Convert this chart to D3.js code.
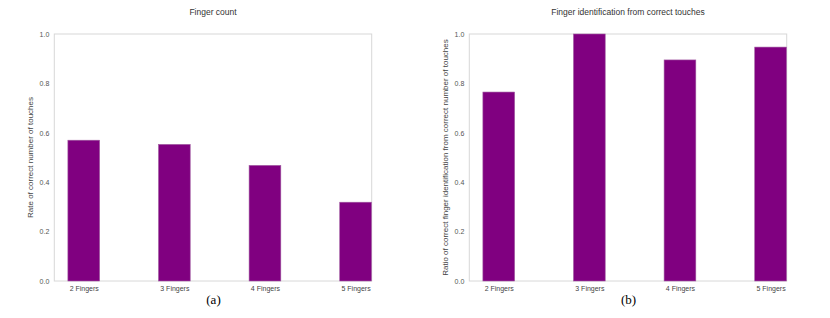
<!DOCTYPE html>
<html><head><meta charset="utf-8">
<script src="https://cdn.jsdelivr.net/npm/d3@7"></script>
<style>body{margin:0;background:#fff}svg{display:block}text{font-family:"Liberation Sans",Arial,sans-serif}</style>
</head><body><svg id="c" width="830" height="318"></svg>
<script>
const categories = ["2 Fingers","3 Fingers","4 Fingers","5 Fingers"];
const countRate = [0.570, 0.553, 0.468, 0.319];
const identRatio = [0.765, 1.0, 0.895, 0.947];
const yTicks = [0.0, 0.2, 0.4, 0.6, 0.8, 1.0];
const titles = ["Finger count", "Finger identification from correct touches"];
const yLabels = ["Rate of correct number of touches", "Ratio of correct finger identification  from correct number of touches"];
const captions = ["(a)", "(b)"];
const seriesList = [countRate, identRatio];

(function(){
const svg = d3.select("#c");
const panels = [{x0:54.3, x1:371.7},{x0:469.3, x1:786.7}];
const plotTop = 34, plotBottom = 281;
const barW = 0.35;

panels.forEach((p, k) => {
  const g = svg.append("g");
  const x = d3.scaleLinear().domain([-0.325, 3.178]).range([p.x0, p.x1]);
  const y = d3.scaleLinear().domain([0, 1]).range([plotBottom, plotTop]);
  g.append("rect").attr("x", p.x0).attr("y", plotTop).attr("width", p.x1 - p.x0).attr("height", plotBottom - plotTop)
    .attr("fill", "none").attr("stroke", "#d8d8d8").attr("stroke-width", 1);
  g.selectAll("rect.bar").data(seriesList[k]).join("rect").attr("class","bar")
    .attr("x", (d,i) => x(i - barW/2)).attr("width", x(barW) - x(0))
    .attr("y", d => y(d)).attr("height", d => y(0) - y(d))
    .attr("fill", "#800080").attr("stroke", "#a05aa0").attr("stroke-width", 0.6);
  const ya = d3.axisLeft(y).tickValues(yTicks).tickFormat(d3.format(".1f")).tickSize(0).tickPadding(5);
  const yg = g.append("g").attr("transform", `translate(${p.x0},0)`).call(ya);
  yg.select(".domain").remove();
  yg.attr("font-family", null);
  yg.selectAll("text").attr("fill", "#555").style("font-size", "7px");
  const xa = d3.axisBottom(x).tickValues(d3.range(categories.length)).tickFormat(i => categories[i]).tickSize(0).tickPadding(5);
  const xg = g.append("g").attr("transform", `translate(0,${plotBottom})`).call(xa);
  xg.select(".domain").remove();
  xg.attr("font-family", null);
  xg.selectAll("text").attr("fill", "#444").style("font-size", "7px");
  const cx = (p.x0 + p.x1) / 2;
  g.append("text").attr("x", cx).attr("y", 15).attr("text-anchor", "middle")
    .style("font-size", "8.5px").attr("fill", "#333").text(titles[k]);
  g.append("text").attr("transform", `translate(${p.x0 - 21},${(plotTop+plotBottom)/2}) rotate(-90)`)
    .attr("text-anchor", "middle").style("font-size", "8px").attr("fill", "#444").text(yLabels[k]);
  g.append("text").attr("x", cx + 0.5).attr("y", 304).attr("text-anchor", "middle")
    .style("font-size", "13px").style("font-family", '"Liberation Serif","Times New Roman",serif')
    .attr("fill", "#000").text(captions[k]);
});
})();
</script></body></html>
